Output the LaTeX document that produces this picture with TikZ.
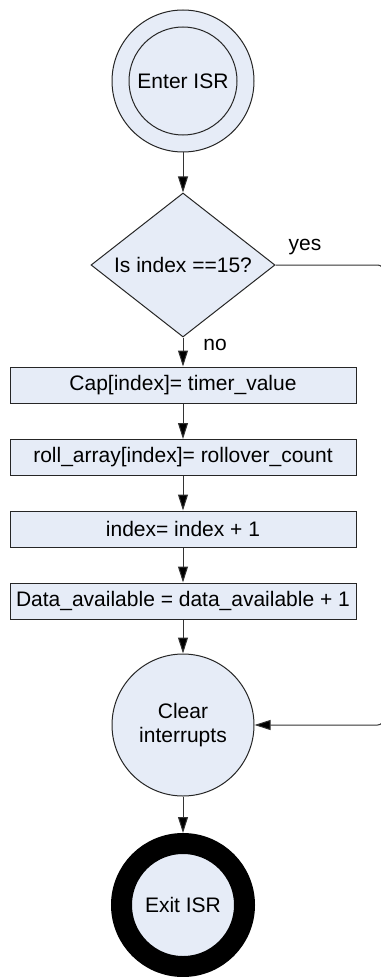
\documentclass[tikz,border=0pt]{standalone}
\usepackage{fontspec}
\setmainfont{Liberation Sans}
\usepackage{xcolor}
\usepackage{tikz}
\usetikzlibrary{shapes,arrows.meta,positioning}

\definecolor{isrblue}{RGB}{230,236,247}

\begin{document}
\begin{tikzpicture}[x=0.75pt, y=-0.75pt,
  font=\fontsize{15.75}{18.5}\selectfont,
  state/.style={circle, draw=black!85, fill=isrblue, line width=0.75pt, minimum size=106.5pt, inner sep=0pt, align=center},
  decision/.style={diamond, draw=black!85, fill=isrblue, line width=0.75pt, aspect=1.28, minimum width=138pt, minimum height=108pt, inner sep=0pt},
  process/.style={rectangle, draw=black!85, fill=isrblue, line width=0.75pt, minimum width=259.5pt, minimum height=27pt, inner sep=0pt},
  exitstate/.style={circle, draw=black, fill=isrblue, line width=15.75pt, minimum size=92.25pt, inner sep=0pt},
  arrow/.style={draw=black!80, line width=0.75pt, -{Triangle[length=12pt, width=7.5pt, fill=black]}},
  lbl/.style={inner sep=0pt}
]
\useasboundingbox (0,0) rectangle (380,977);

% Entry
\node[state] (enter) at (183,81) {};
\node[state, minimum size=81pt] (entertxt) at (183,81) {Enter ISR};

% Decision
\node[decision] (dec) at (183,265) {Is index ==15?};
\node[lbl] (yes) at (305,247) {yes};
\node[lbl] (no) at (215,345) {no};

% Processing steps
\node[process] (cap) at (183,385) {Cap[index]= timer\_value};
\node[process] (roll) at (183,457.5) {roll\_array[index]= rollover\_count};
\node[process] (inc) at (183,529) {index= index + 1};
\node[process] (data) at (183,601) {Data\_available = data\_available + 1};

% Exit
\node[state] (clr) at (183,725) {Clear\\interrupts};
\node[exitstate] (exit) at (183,905) {Exit ISR};

% Connections
\draw[arrow] (enter) -- (dec);
\draw[arrow] (dec) -- (cap);
\draw[arrow] (cap) -- (roll);
\draw[arrow] (roll) -- (inc);
\draw[arrow] (inc) -- (data);
\draw[arrow] (data) -- (clr);
\draw[arrow] (clr) -- (exit);

% yes branch, runs just past the right edge
\coordinate (rt) at (383.5,265);
\draw[arrow, rounded corners=4.5pt] (dec.east) -- (rt) |- (clr.east);

\end{tikzpicture}
\end{document}
